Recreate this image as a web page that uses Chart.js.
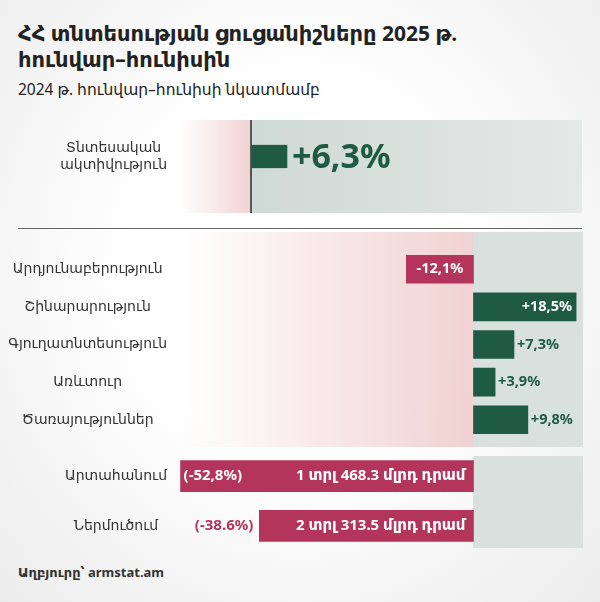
<!DOCTYPE html>
<html><head><meta charset="utf-8">
<script src="https://cdn.jsdelivr.net/npm/chart.js@4"></script>
<style>
body{margin:0;width:600px;height:602px;position:relative;overflow:hidden;font-family:'Noto Sans','DejaVu Sans',sans-serif;
 background:radial-gradient(ellipse at 50% 45%,#ffffff 40%,#ececec 100%);}
.abs{position:absolute}
canvas{position:absolute;left:0}
#title{left:18px;top:20px;font-size:21px;font-weight:bold;color:#222;line-height:26px;width:580px}
#sub{left:18px;top:78px;font-size:15.5px;color:#222}
#src{left:18px;top:563px;font-size:13px;font-weight:bold;color:#333}
.gray{background:#d9e1de}
.pink{background:linear-gradient(to right,rgba(240,205,205,0),rgba(240,205,205,0.9))}
</style></head><body>
<div class="abs" id="title">ՀՀ տնտեսության ցուցանիշները 2025 թ.<br>հունվար–հունիսին</div>
<div class="abs" id="sub">2024 թ. հունվար–հունիսի նկատմամբ</div>
<div class="abs pink" style="left:180px;top:120px;width:72px;height:93px"></div>
<div class="abs gray" style="left:252px;top:120px;width:330px;height:93px;background:linear-gradient(to right,#cfd9d5,#e4e9e7)"></div>
<div class="abs" style="left:250px;top:120px;width:2px;height:93px;background:#555"></div>
<div class="abs" style="left:18px;top:228px;width:564px;height:1px;background:#666"></div>
<div class="abs pink" style="left:180px;top:232px;width:293px;height:215px"></div>
<div class="abs gray" style="left:473px;top:232px;width:110px;height:215px"></div>
<div class="abs gray" style="left:473px;top:456px;width:110px;height:92px"></div>
<div class="abs" id="src">Աղբյուրը՝ armstat.am</div>
<canvas id="c1" width="600" height="57" style="top:128px"></canvas>
<canvas id="c2" width="600" height="205" style="top:242px"></canvas>
<canvas id="c3" width="600" height="116" style="top:443px"></canvas>
<script>
const topLabels = [['Տնտեսական','ակտիվություն']];
const topValues = [6.3];
const topText = ['+6,3%'];
const sectorLabels = ['Արդյունաբերություն','Շինարարություն','Գյուղատնտեսություն','Առևտուր','Ծառայություններ'];
const sectorValues = [-12.1, 18.5, 7.3, 3.9, 9.8];
const sectorText = ['-12,1%','+18,5%','+7,3%','+3,9%','+9,8%'];
const tradeLabels = ['Արտահանում','Ներմուծում'];
const tradeValues = [-52.8, -38.6];
const tradePct = ['(-52,8%)','(-38.6%)'];
const tradeAmount = ['1 տրլ 468.3 մլրդ դրամ','2 տրլ 313.5 մլրդ դրամ'];

const GREEN = '#1e5a44', RED = '#b3355b';
const FONT = "'Noto Sans','DejaVu Sans',sans-serif";

function makeChart(id, labels, values, xmin, xmax, thick, drawLabels) {
  const ds = { data: values, backgroundColor: values.map(v => v < 0 ? RED : GREEN), categoryPercentage: 1, barPercentage: 1 };
  if (thick) ds.barThickness = thick;
  new Chart(document.getElementById(id), {
    type: 'bar',
    data: { labels: labels, datasets: [ds] },
    options: {
      indexAxis: 'y', responsive: false, animation: false,
      layout: { padding: { left: 0, right: 15, top: 0, bottom: 0 } },
      plugins: { legend: { display: false }, tooltip: { enabled: false } },
      scales: {
        x: { display: false, min: xmin, max: xmax },
        y: { grid: { display: false }, border: { display: false },
             afterFit: s => { s.width = 175; },
             ticks: { color: '#333', font: { family: FONT, size: 14 }, crossAlign: 'center', padding: 0 } }
      }
    },
    plugins: [{ id: 'lbl', afterDatasetsDraw(chart) {
      const ctx = chart.ctx;
      chart.getDatasetMeta(0).data.forEach((b, i) => drawLabels(ctx, b, i, chart));
    } }]
  });
}

makeChart('c1', topLabels, topValues, -13.87, 60, 0, (ctx, b, i) => {
  ctx.save(); ctx.fillStyle = GREEN; ctx.font = 'bold 34px ' + FONT;
  ctx.textBaseline = 'middle'; ctx.fillText(topText[i], b.x + 5, b.y + 2); ctx.restore();
});

makeChart('c2', sectorLabels, sectorValues, -53.8, 20.1, 28, (ctx, b, i) => {
  ctx.save(); ctx.font = 'bold 14.5px ' + FONT; ctx.textBaseline = 'middle';
  const w = ctx.measureText(sectorText[i]).width;
  if (sectorValues[i] < 0) { ctx.fillStyle = '#fff'; ctx.textAlign = 'center'; ctx.fillText(sectorText[i], (b.x + b.base) / 2, b.y); }
  else if (b.x + 3 + w > 585) { ctx.fillStyle = '#fff'; ctx.textAlign = 'right'; ctx.fillText(sectorText[i], b.x - 4, b.y); }
  else { ctx.fillStyle = GREEN; ctx.fillText(sectorText[i], b.x + 3, b.y); }
  ctx.restore();
});

makeChart('c3', tradeLabels, tradeValues, -53.8, 20.1, 31, (ctx, b, i) => {
  ctx.save(); ctx.font = 'bold 15px ' + FONT; ctx.textBaseline = 'middle';
  ctx.fillStyle = '#fff'; ctx.textAlign = 'right'; ctx.fillText(tradeAmount[i], b.base - 8, b.y);
  const w = ctx.measureText(tradeAmount[i]).width + ctx.measureText(tradePct[i]).width + 24;
  ctx.textAlign = 'left';
  if (b.base - b.x > w) { ctx.fillStyle = '#fff'; ctx.fillText(tradePct[i], b.x + 3, b.y); }
  else { ctx.fillStyle = RED; ctx.textAlign = 'right'; ctx.fillText(tradePct[i], b.x - 6, b.y); }
  ctx.restore();
});
</script>
</body></html>
